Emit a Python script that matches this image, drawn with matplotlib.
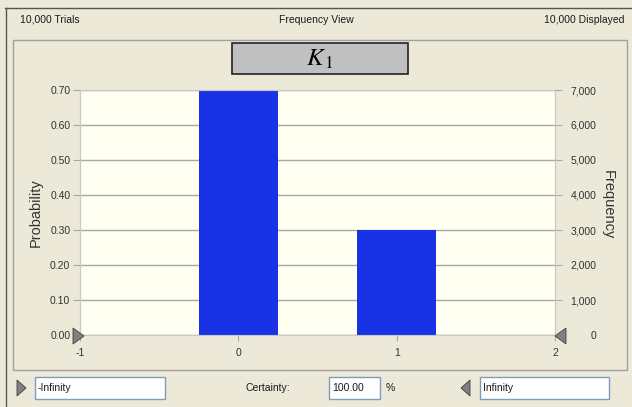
import matplotlib
matplotlib.use("Agg")
import matplotlib.pyplot as plt
from matplotlib.patches import Rectangle, Polygon

values = [0, 1]
probabilities = [0.70, 0.30]
trials = 10000
yticks = [0.0, 0.1, 0.2, 0.3, 0.4, 0.5, 0.6, 0.7]
freq_ticks = [0, 1000, 2000, 3000, 4000, 5000, 6000, 7000]
xticks = [-1, 0, 1, 2]

W, H = 632, 407
plt.rcParams['font.family'] = ['Liberation Sans', 'DejaVu Sans']
plt.rcParams['mathtext.fontset'] = 'stix'
fig = plt.figure(figsize=(W / 100, H / 100), dpi=100)
fig.patch.set_facecolor('#ECE9D8')

def fx(x): return x / W
def fy(y): return 1 - y / H

# outer frame lines
fig.add_artist(plt.Line2D([fx(5), fx(632)], [fy(8), fy(8)], color='#555555', lw=1, zorder=-5))
fig.add_artist(plt.Line2D([fx(6), fx(6)], [fy(8), fy(407)], color='#555555', lw=1, zorder=-5))
# inner panel
fig.add_artist(Rectangle((fx(13), fy(370)), fx(627 - 13), (370 - 40) / H,
                         transform=fig.transFigure, facecolor='#ECE9D8',
                         edgecolor='#A0A0A0', lw=1, zorder=-5))

tk = dict(fontsize=7.5, color='#1A1A1A')
fig.text(fx(20), fy(20), '10,000 Trials', ha='left', va='center', **tk)
fig.text(fx(316), fy(20), 'Frequency View', ha='center', va='center', **tk)
fig.text(fx(625), fy(20), '10,000 Displayed', ha='right', va='center', **tk)

# title box
fig.add_artist(Rectangle((fx(232), fy(74)), fx(408 - 232), (74 - 43) / H,
                         transform=fig.transFigure, facecolor='#C0C0C0',
                         edgecolor='#222222', lw=1.2))
fig.text(fx(320), fy(59), r'$K_{\,\mathrm{1}}$', ha='center', va='center', fontsize=18)

ax = fig.add_axes([fx(80), 72 / H, 475 / W, 245 / H])
ax.set_facecolor('#FFFFF2')
ax.bar(values, probabilities, width=0.5, color='#1932E6', zorder=3)
ax.set_xlim(-1, 2)
ax.set_ylim(0, 0.7)
ax.set_yticks(yticks)
ax.set_yticklabels([f'{v:.2f}' for v in yticks])
ax.set_xticks(xticks)
ax.set_xticklabels([str(v) for v in xticks])
ax.grid(axis='y', color='#A8A8A8', lw=1, zorder=1)
for s in ax.spines.values():
    s.set_color('#C8C8C8')
ax.tick_params(axis='y', length=5, color='#A8A8A8', labelsize=7.5, pad=2,
               labelcolor='#333333')
ax.tick_params(axis='x', length=4, color='#A8A8A8', labelsize=7.5, pad=5,
               labelcolor='#333333')
ax.set_ylabel('Probability', fontsize=10.5, color='#333333', labelpad=5)

ax2 = ax.twinx()
ax2.set_ylim(0, 0.7 * trials)
ax2.set_yticks(freq_ticks)
ax2.set_yticklabels([f'{v:,}' for v in freq_ticks])
ax2.tick_params(axis='y', length=5, color='#A8A8A8', labelsize=7.5, pad=25,
               labelcolor='#333333')
for lab in ax2.get_yticklabels():
    lab.set_horizontalalignment('right')
for s in ax2.spines.values():
    s.set_color('#C8C8C8')
ax2.set_ylabel('')
fig.text(fx(608), fy(205), 'Frequency', rotation=-90, ha='center', va='center',
         fontsize=10.5, color='#333333')

# grabbers
def tri(pts, color='#808080'):
    fig.add_artist(Polygon([(fx(a), fy(b)) for a, b in pts], closed=True,
                           transform=fig.transFigure, facecolor=color,
                           edgecolor='#404040', lw=0.6, zorder=5))
tri([(73, 328), (73, 344), (84, 336)])
tri([(566, 328), (566, 344), (555, 336)])
tri([(17, 380), (17, 396), (26, 388)])
tri([(470, 380), (470, 396), (461, 388)])

def box(x0, x1, txt):
    fig.add_artist(Rectangle((fx(x0), fy(399)), fx(x1 - x0), 22 / H,
                             transform=fig.transFigure, facecolor='white',
                             edgecolor='#7F9DB9', lw=1))
    fig.text(fx(x0 + 3), fy(388), txt, ha='left', va='center', **tk)

box(35, 165, '-Infinity')
box(329, 380, '100.00')
box(480, 609, 'Infinity')
fig.text(fx(290), fy(388), 'Certainty:', ha='right', va='center', **tk)
fig.text(fx(386), fy(388), '%', ha='left', va='center', **tk)

fig.savefig('out.png', dpi=100, facecolor=fig.get_facecolor())
